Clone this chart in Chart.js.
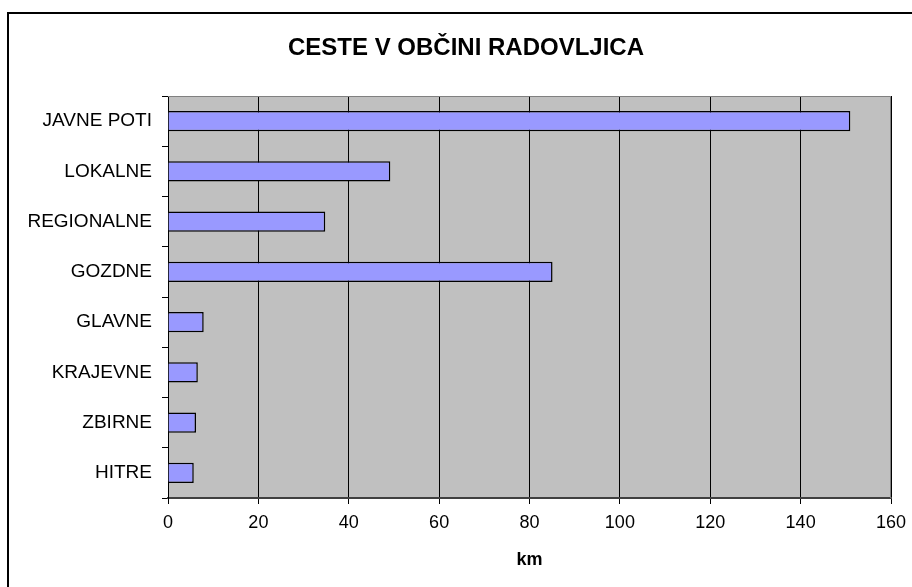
<!DOCTYPE html>
<html lang="sl">
<head>
    <meta charset="UTF-8">
    <title>Ceste v občini Radovljica</title>
    <style>
        html, body {
            margin: 0;
            padding: 0;
            background: #fff;
        }

        #wrap {
            width: 912px;
            height: 587px;
        }
    </style>
</head>
<body>
    <div id="wrap"><canvas id="roads_chart" width="912" height="587"></canvas></div>

    <script src="https://cdn.jsdelivr.net/npm/chart.js@4/dist/chart.umd.min.js"></script>
    <script>
        const chart_title = "CESTE V OBČINI RADOVLJICA";
        const axis_title = "km";
        const categories = ["JAVNE POTI", "LOKALNE", "REGIONALNE", "GOZDNE", "GLAVNE", "KRAJEVNE", "ZBIRNE", "HITRE"];
        const lengths_km = [151, 49.2, 34.8, 85.1, 7.9, 6.6, 6.2, 5.7];
        const x_ticks = [0, 20, 40, 60, 80, 100, 120, 140, 160];

        const font_family = "'Liberation Sans', Arial, sans-serif";

        // grey plot background, grey top/right edge, outer frame and title
        const decor = {
            id: "decor",
            beforeDraw(chart) {
                const ctx = chart.ctx;
                const a = chart.chartArea;
                ctx.save();
                ctx.fillStyle = "#fff";
                ctx.fillRect(0, 0, chart.width, chart.height);
                ctx.fillStyle = "#c0c0c0";
                ctx.fillRect(a.left, a.top, a.right - a.left, a.bottom - a.top);
                ctx.restore();
            },
            afterDraw(chart) {
                const ctx = chart.ctx;
                const a = chart.chartArea;
                ctx.save();
                ctx.strokeStyle = "#808080";
                ctx.lineWidth = 1;
                ctx.beginPath();
                ctx.moveTo(a.left, a.top + 0.5);
                ctx.lineTo(a.right - 0.5, a.top + 0.5);
                ctx.lineTo(a.right - 0.5, a.bottom);
                ctx.stroke();

                ctx.strokeStyle = "#000";
                ctx.lineWidth = 2;
                ctx.beginPath();
                ctx.moveTo(8, chart.height + 2);
                ctx.lineTo(8, 13);
                ctx.lineTo(chart.width + 2, 13);
                ctx.stroke();

                ctx.fillStyle = "#000";
                ctx.font = "bold 24px " + font_family;
                ctx.textAlign = "center";
                ctx.textBaseline = "middle";
                ctx.fillText(chart_title, 466, 48);
                ctx.restore();
            }
        };

        new Chart(document.getElementById("roads_chart"), {
            type: "bar",
            data: {
                labels: categories,
                datasets: [{
                    data: lengths_km,
                    backgroundColor: "#9999ff",
                    borderColor: "#000",
                    borderWidth: 1.5,
                    barPercentage: 0.4,
                    categoryPercentage: 1
                }]
            },
            options: {
                indexAxis: "y",
                responsive: false,
                animation: false,
                layout: { padding: { left: 0, right: 21, top: 96, bottom: 0 } },
                plugins: {
                    legend: { display: false },
                    title: { display: false },
                    tooltip: { enabled: false }
                },
                scales: {
                    x: {
                        min: 0,
                        max: 160,
                        afterFit: s => {
                            s.height = 89;
                            s.paddingLeft = 0;
                            s.paddingRight = 0;
                        },
                        afterBuildTicks: s => { s.ticks = x_ticks.map(v => ({ value: v })); },
                        grid: { color: "#000", lineWidth: 1, tickLength: 6 },
                        border: { color: "#404040", width: 2 },
                        ticks: { color: "#000", padding: 8, font: { family: font_family, size: 18 } },
                        title: {
                            display: true,
                            text: axis_title,
                            color: "#000",
                            padding: { top: 0, bottom: 16 },
                            font: { family: font_family, size: 18, weight: "bold" }
                        }
                    },
                    y: {
                        afterFit: s => { s.width = 168; },
                        grid: { drawOnChartArea: false, offset: true, color: "#000", tickLength: 6 },
                        border: { color: "#000", width: 1 },
                        ticks: { color: "#000", padding: 10, font: { family: font_family, size: 19 } }
                    }
                }
            },
            plugins: [decor]
        });
    </script>
</body>
</html>
